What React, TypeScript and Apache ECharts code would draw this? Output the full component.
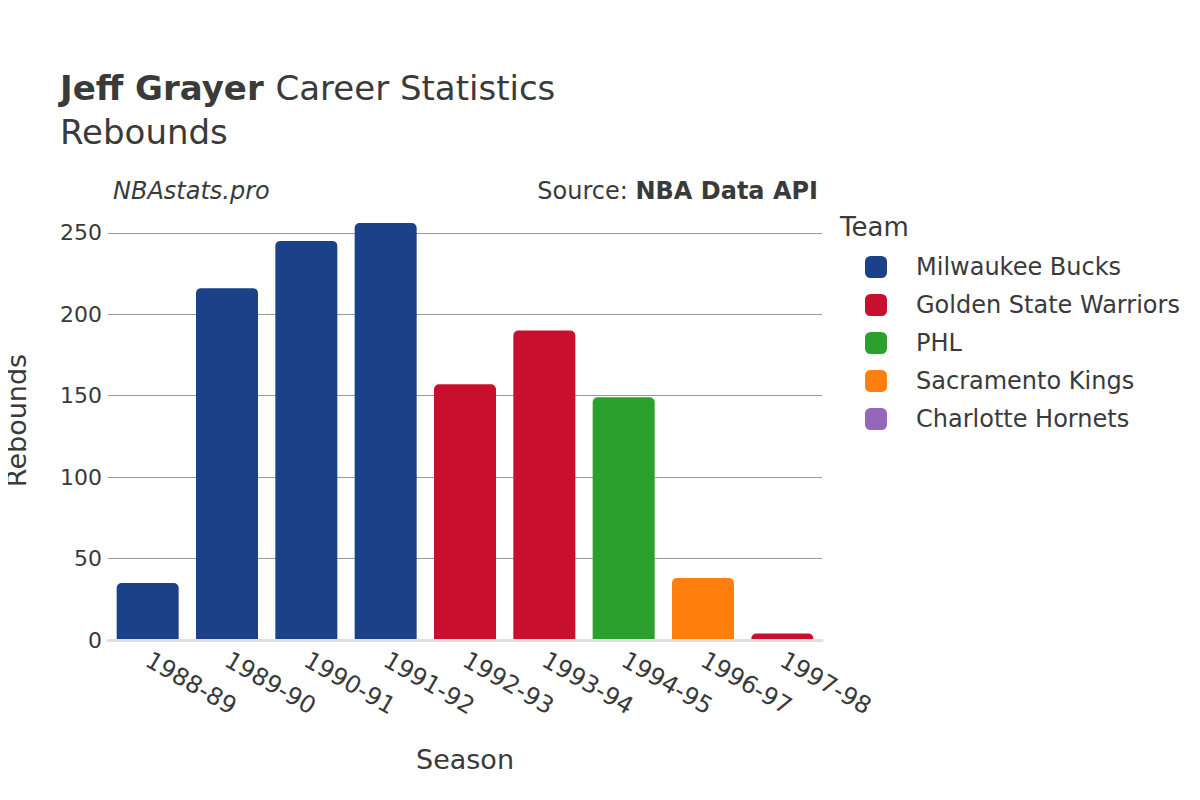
import React, { useEffect, useRef } from "react";
import * as echarts from "echarts";

const seasons = ["1988-89", "1989-90", "1990-91", "1991-92", "1992-93", "1993-94", "1994-95", "1996-97", "1997-98"];
const rebounds = [35, 216, 245, 256, 157, 190, 149, 38, 4];
const seasonTeams = [
  "Milwaukee Bucks",
  "Milwaukee Bucks",
  "Milwaukee Bucks",
  "Milwaukee Bucks",
  "Golden State Warriors",
  "Golden State Warriors",
  "PHL",
  "Sacramento Kings",
  "Golden State Warriors",
];
const teamNames = ["Milwaukee Bucks", "Golden State Warriors", "PHL", "Sacramento Kings", "Charlotte Hornets"];
const teamColors = ["#1b4289", "#c8102e", "#2ca02c", "#ff7f0e", "#9467bd"];
const yTicks = [0, 50, 100, 150, 200, 250];

const FONT = "DejaVu Sans";
const TXT = "#3a3a3a";

export default function App() {
  const ref = useRef<HTMLDivElement>(null);
  useEffect(() => {
    if (!ref.current) return;
    const chart = echarts.init(ref.current, undefined, { renderer: "svg" });
    const series = teamNames.map((team, k) => ({
      name: team,
      type: "bar",
      stack: "all",
      barWidth: 62,
      itemStyle: { color: teamColors[k], borderRadius: [5, 5, 0, 0] },
      data: seasons.map((_, i) => (seasonTeams[i] === team ? rebounds[i] : null)),
    }));
    const gridColors = yTicks.map((t) => (t === 0 ? "rgba(0,0,0,0)" : "#9a9a9a"));
    gridColors.push("rgba(0,0,0,0)");
    chart.setOption({
      animation: false,
      backgroundColor: "#ffffff",
      textStyle: { fontFamily: FONT, color: TXT },
      title: [
        {
          text: "{b|Jeff Grayer }{n|Career Statistics}",
          left: 60,
          top: 71,
          padding: 0,
          textStyle: {
            rich: {
              b: { fontFamily: FONT, fontSize: 34, fontWeight: "bold", color: TXT },
              n: { fontFamily: FONT, fontSize: 34, fontWeight: "normal", color: TXT },
            },
          },
        },
        {
          text: "Rebounds",
          left: 60,
          top: 115,
          padding: 0,
          textStyle: { fontFamily: FONT, fontSize: 34, fontWeight: "normal", color: TXT },
        },
        {
          text: "NBAstats.pro",
          left: 113,
          top: 179,
          padding: 0,
          textStyle: { fontFamily: FONT, fontSize: 24, fontStyle: "italic", fontWeight: "normal", color: TXT },
        },
        {
          text: "{n|Source: }{b|NBA Data API}",
          right: 382,
          top: 179,
          padding: 0,
          textStyle: {
            rich: {
              n: { fontFamily: FONT, fontSize: 24, fontWeight: "normal", color: TXT },
              b: { fontFamily: FONT, fontSize: 24, fontWeight: "bold", color: TXT },
            },
          },
        },
        {
          text: "Team",
          left: 840,
          top: 214,
          padding: 0,
          textStyle: { fontFamily: FONT, fontSize: 26, fontWeight: "normal", color: TXT },
        },
      ],
      legend: {
        orient: "vertical",
        left: 865,
        top: 255,
        padding: 0,
        icon: "roundRect",
        itemWidth: 22,
        itemHeight: 22,
        itemGap: 14,
        data: teamNames,
        textStyle: { fontFamily: FONT, fontSize: 24, color: TXT, padding: [0, 0, 0, 24] },
      },
      grid: { left: 108, right: 378, top: 201, height: 439, containLabel: false, outerBoundsMode: "none" },
      xAxis: {
        type: "category",
        data: seasons,
        name: "Season",
        nameLocation: "middle",
        nameGap: 106,
        nameTextStyle: { fontFamily: FONT, fontSize: 27, color: TXT },
        axisLine: { show: true, lineStyle: { color: "#e0e0e0", width: 3 } },
        axisTick: { show: false },
        axisLabel: { rotate: -30, fontFamily: FONT, fontSize: 24, color: TXT, margin: 18 },
        z: 10,
      },
      yAxis: {
        type: "value",
        min: 0,
        max: 269.5,
        interval: 50,
        name: "Rebounds",
        nameLocation: "middle",
        nameRotate: 90,
        nameGap: 78,
        nameTextStyle: { fontFamily: FONT, fontSize: 27, color: TXT },
        axisLine: { show: false },
        axisTick: { show: false },
        axisLabel: {
          fontFamily: FONT,
          fontSize: 22,
          color: TXT,
          margin: 6,
          formatter: (v: number) => (yTicks.indexOf(v) >= 0 ? String(v) : ""),
        },
        splitLine: { show: true, lineStyle: { color: gridColors, width: 1 } },
      },
      series,
    });
    return () => chart.dispose();
  }, []);
  return <div ref={ref} style={{ width: 1200, height: 800, marginLeft: -8, marginTop: -8 }} />;
}
